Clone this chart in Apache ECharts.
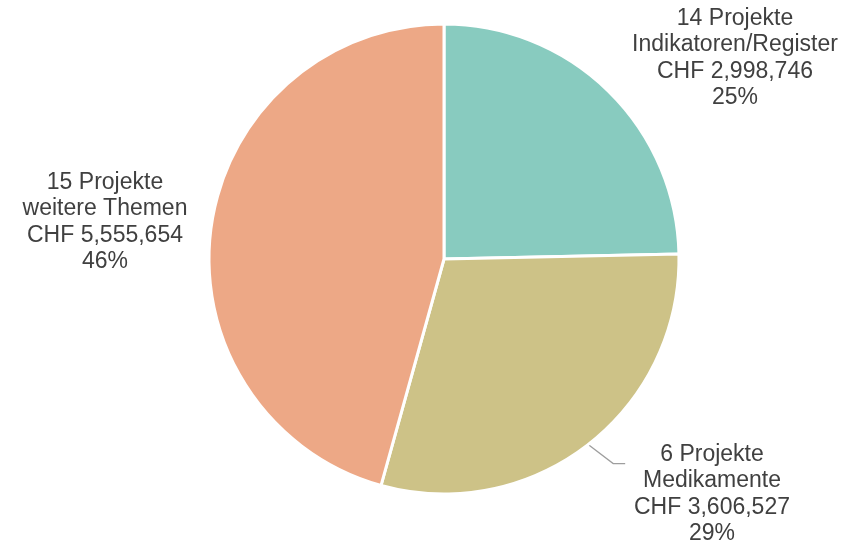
<!DOCTYPE html>
<html>
<head>
<meta charset="utf-8">
<script src="https://cdn.jsdelivr.net/npm/echarts@6/dist/echarts.min.js"></script>
<style>
html,body{margin:0;padding:0;background:#fff;}
#chart{width:847px;height:545px;}
</style>
</head>
<body>
<div id="chart"></div>
<script>
const categories = ['Indikatoren/Register', 'Medikamente', 'weitere Themen'];
const projectCounts = [14, 6, 15];
const values = [2998746, 3606527, 5555654];
const valueLabels = ['CHF 2,998,746', 'CHF 3,606,527', 'CHF 5,555,654'];
const percentLabels = ['25%', '29%', '46%'];
const colors = ['#88CBBF', '#CDC287', '#EDA886'];

const labelPos = [
  {x: 735, y: 58},
  {x: 712, y: 494},
  {x: 105, y: 222}
];

const chart = echarts.init(document.getElementById('chart'), null, {renderer: 'canvas'});
chart.setOption({
  animation: false,
  backgroundColor: '#ffffff',
  series: [{
    type: 'pie',
    center: [444, 259],
    radius: [0, 235],
    startAngle: 90,
    clockwise: true,
    avoidLabelOverlap: false,
    itemStyle: {borderColor: '#ffffff', borderWidth: 3},
    label: {
      show: true,
      position: 'outside',
      color: '#404040',
      fontFamily: '"Liberation Sans", Arial, sans-serif',
      fontSize: 23,
      lineHeight: 26.5,
      align: 'center',
      formatter: function (p) {
        const i = p.dataIndex;
        return projectCounts[i] + ' Projekte\n' + categories[i] + '\n' + valueLabels[i] + '\n' + percentLabels[i];
      }
    },
    labelLine: {show: true, length: 26, length2: 16, lineStyle: {color: '#9E9E9E', width: 1.3}},
    labelLayout: function (params) {
      const p = labelPos[params.dataIndex];
      const out = {x: p.x, y: p.y, align: 'center', verticalAlign: 'middle'};
      if (params.labelLinePoints) {
        const s = params.labelLinePoints[0];
        out.labelLinePoints = [s, [s[0] + 25, s[1] + 19], [s[0] + 37, s[1] + 19]];
      }
      return out;
    },
    data: categories.map(function (c, i) {
      return {
        name: c,
        value: values[i],
        itemStyle: {color: colors[i]},
        labelLine: {show: i === 1}
      };
    })
  }]
});
</script>
</body>
</html>
